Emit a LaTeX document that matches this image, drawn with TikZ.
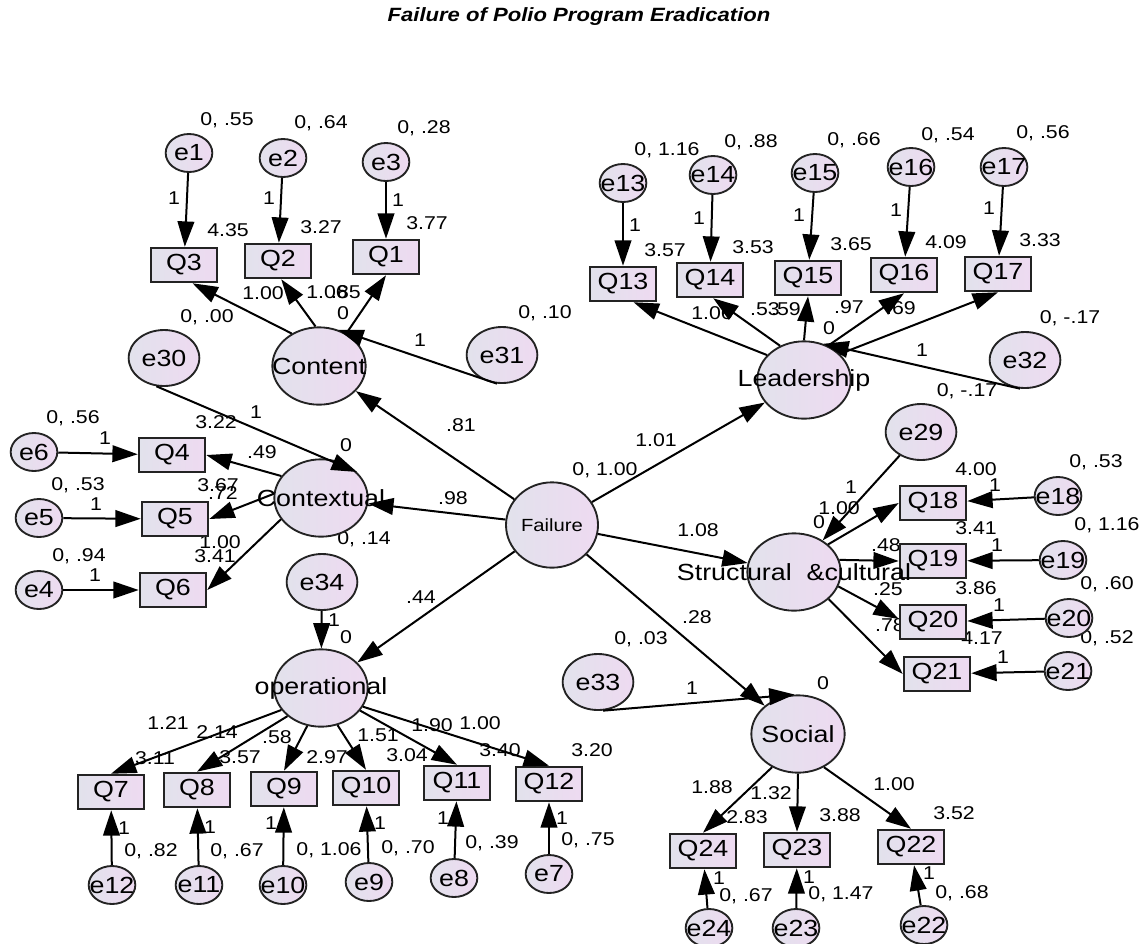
\documentclass[tikz,border=0pt]{standalone}
\usepackage{fontspec}
\setmainfont{Liberation Sans}[FakeStretch=1.15]
\usetikzlibrary{arrows.meta,shapes.geometric}
\definecolor{lavL}{RGB}{226,226,236}
\definecolor{lavR}{RGB}{238,218,241}
\definecolor{rim}{RGB}{35,35,35}
\newcommand{\cz}[1]{\makebox[0pt]{#1}}
\tikzset{
  latent/.style={ellipse,draw=rim,line width=1.4pt,left color=lavL,right color=lavR,
    minimum width=70pt,minimum height=58pt,inner sep=0pt,font=\fontsize{17.5}{20}\selectfont},
  failure/.style={latent,minimum width=69pt,minimum height=64pt,font=\fontsize{13.2}{15}\selectfont},
  obs/.style={rectangle,draw=rim,line width=1.4pt,left color=lavL,right color=lavR,
    minimum width=50pt,minimum height=26pt,inner sep=0pt,font=\fontsize{17.5}{20}\selectfont},
  err/.style={latent,minimum width=35pt,minimum height=28.5pt},
  bigerr/.style={latent,minimum width=53pt,minimum height=42pt},
  num/.style={inner sep=0pt,font=\fontsize{13.9}{16}\selectfont},
  arrow/.style={-{Triangle[length=19pt,width=12.5pt]},line width=1.5pt}}
\begin{document}
\begin{tikzpicture}[x=0.75pt,y=-0.75pt]
    \useasboundingbox[fill=white] (0,0) rectangle (1148,943);
    \node[font=\fontsize{14.4}{17}\selectfont\bfseries\itshape] (title) at (579,17) {Failure of Polio Program Eradication};
    % estimates
    \node[num] (n1) at (227,120) {0, .55};
    \node[num] (n2) at (321,123) {0, .64};
    \node[num] (n3) at (424,128) {0, .28};
    \node[num] (n4) at (174,198) {1};
    \node[num] (n5) at (269,198) {1};
    \node[num] (n6) at (398,200) {1};
    \node[num] (n7) at (228,230) {4.35};
    \node[num] (n8) at (321,227) {3.27};
    \node[num] (n9) at (427,223) {3.77};
    \node[num] (n10) at (263,293) {1.00};
    \node[num] (n11) at (327,292) {1.06};
    \node[num] (n12) at (346,292) {.85};
    \node[num] (n13) at (343,313) {0};
    \node[num] (n14) at (207,317) {0, .00};
    \node[num] (n15) at (545,313) {0, .10};
    \node[num] (n16) at (420,340) {1};
    \node[num] (n17) at (256,412) {1};
    \node[num] (n18) at (216,422) {3.22};
    \node[num] (n19) at (73,418) {0, .56};
    \node[num] (n20) at (105,438) {1};
    \node[num] (n21) at (262,452) {.49};
    \node[num] (n22) at (346,445) {0};
    \node[num] (n23) at (78,485) {0, .53};
    \node[num] (n24) at (218,485) {3.67};
    \node[num] (n25) at (223,493) {.72};
    \node[num] (n26) at (96,504) {1};
    \node[num] (n27) at (453,498) {.98};
    \node[num] (n28) at (220,542) {1.00};
    \node[num] (n29) at (215,556) {3.41};
    \node[num] (n30) at (364,539) {0, .14};
    \node[num] (n31) at (79,556) {0, .94};
    \node[num] (n32) at (95,575) {1};
    \node[num] (n33) at (461,425) {.81};
    \node[num] (n34) at (334,620) {1};
    \node[num] (n35) at (346,637) {0};
    \node[num] (n36) at (421,597) {.44};
    \node[num] (n37) at (168,723) {1.21};
    \node[num] (n38) at (217,732) {2.14};
    \node[num] (n39) at (277,737) {.58};
    \node[num] (n40) at (378,735) {1.51};
    \node[num] (n41) at (432,725) {1.90};
    \node[num] (n42) at (480,723) {1.00};
    \node[num] (n43) at (155,758) {3.11};
    \node[num] (n44) at (240,757) {3.57};
    \node[num] (n45) at (327,757) {2.97};
    \node[num] (n46) at (407,755) {3.04};
    \node[num] (n47) at (500,750) {3.40};
    \node[num] (n48) at (592,750) {3.20};
    \node[num] (n49) at (124,828) {1};
    \node[num] (n50) at (210,827) {1};
    \node[num] (n51) at (271,823) {1};
    \node[num] (n52) at (380,823) {1};
    \node[num] (n53) at (443,818) {1};
    \node[num] (n54) at (562,818) {1};
    \node[num] (n55) at (151,851) {0, .82};
    \node[num] (n56) at (237,851) {0, .67};
    \node[num] (n57) at (329,850) {0, 1.06};
    \node[num] (n58) at (408,848) {0, .70};
    \node[num] (n59) at (492,843) {0, .39};
    \node[num] (n60) at (588,840) {0, .75};
    \node[num] (n61) at (667,150) {0, 1.16};
    \node[num] (n62) at (751,142) {0, .88};
    \node[num] (n63) at (854,140) {0, .66};
    \node[num] (n64) at (948,135) {0, .54};
    \node[num] (n65) at (1043,133) {0, .56};
    \node[num] (n66) at (635,225) {1};
    \node[num] (n67) at (699,218) {1};
    \node[num] (n68) at (799,215) {1};
    \node[num] (n69) at (896,210) {1};
    \node[num] (n70) at (989,208) {1};
    \node[num] (n71) at (665,250) {3.57};
    \node[num] (n72) at (753,247) {3.53};
    \node[num] (n73) at (851,244) {3.65};
    \node[num] (n74) at (946,242) {4.09};
    \node[num] (n75) at (1040,240) {3.33};
    \node[num] (n76) at (712,313) {1.06};
    \node[num] (n77) at (765,309) {.53};
    \node[num] (n78) at (786,309) {.59};
    \node[num] (n79) at (849,307) {.97};
    \node[num] (n80) at (901,308) {.69};
    \node[num] (n81) at (829,328) {0};
    \node[num] (n82) at (1070,318) {0, -.17};
    \node[num] (n83) at (922,350) {1};
    \node[num] (n84) at (967,391) {0, -.17};
    \node[num] (n85) at (605,470) {0, 1.00};
    \node[num] (n86) at (656,440) {1.01};
    \node[num] (n87) at (698,530) {1.08};
    \node[num] (n88) at (697,617) {.28};
    \node[num] (n89) at (851,487) {1};
    \node[num] (n90) at (839,508) {1.00};
    \node[num] (n91) at (819,522) {0};
    \node[num] (n92) at (976,469) {4.00};
    \node[num] (n93) at (995,485) {1};
    \node[num] (n94) at (1096,462) {0, .53};
    \node[num] (n95) at (976,528) {3.41};
    \node[num] (n96) at (997,545) {1};
    \node[num] (n97) at (1107,525) {0, 1.16};
    \node[num] (n98) at (886,545) {.48};
    \node[num] (n99) at (888,589) {.25};
    \node[num] (n100) at (976,588) {3.86};
    \node[num] (n101) at (999,605) {1};
    \node[num] (n102) at (1107,584) {0, .60};
    \node[num] (n103) at (890,625) {.78};
    \node[num] (n104) at (982,638) {4.17};
    \node[num] (n105) at (1107,638) {0, .52};
    \node[num] (n106) at (1003,657) {1};
    \node[num] (n107) at (641,639) {0, .03};
    \node[num] (n108) at (692,688) {1};
    \node[num] (n109) at (823,683) {0};
    \node[num] (n110) at (712,787) {1.88};
    \node[num] (n111) at (771,793) {1.32};
    \node[num] (n112) at (894,784) {1.00};
    \node[num] (n113) at (747,817) {2.83};
    \node[num] (n114) at (840,815) {3.88};
    \node[num] (n115) at (954,813) {3.52};
    \node[num] (n116) at (719,878) {1};
    \node[num] (n117) at (809,877) {1};
    \node[num] (n118) at (929,873) {1};
    \node[num] (n119) at (746,896) {0, .67};
    \node[num] (n120) at (841,894) {0, 1.47};
    \node[num] (n121) at (962,893) {0, .68};
    % observed
    \node[obs] (Q3) at (184,265) {Q3};
    \node[obs] (Q2) at (278,261) {Q2};
    \node[obs] (Q1) at (386,257) {Q1};
    \node[obs] (Q4) at (172,455) {Q4};
    \node[obs] (Q5) at (175,519) {Q5};
    \node[obs] (Q6) at (173,590) {Q6};
    \node[obs] (Q7) at (111,792) {Q7};
    \node[obs] (Q8) at (197,790) {Q8};
    \node[obs] (Q9) at (284,789) {Q9};
    \node[obs] (Q10) at (366,788) {Q10};
    \node[obs] (Q11) at (457,783) {Q11};
    \node[obs] (Q12) at (549,784) {Q12};
    \node[obs] (Q13) at (623,284) {Q13};
    \node[obs] (Q14) at (710,280) {Q14};
    \node[obs] (Q15) at (808,278) {Q15};
    \node[obs] (Q16) at (904,275) {Q16};
    \node[obs] (Q17) at (998,274) {Q17};
    \node[obs] (Q18) at (933,503) {Q18};
    \node[obs] (Q19) at (933,561) {Q19};
    \node[obs] (Q20) at (933,622) {Q20};
    \node[obs] (Q21) at (937,674) {Q21};
    \node[obs] (Q22) at (911,847) {Q22};
    \node[obs] (Q23) at (797,850) {Q23};
    \node[obs] (Q24) at (703,851) {Q24};
    % errors
    \node[err] (e1) at (189,153) {\cz{e1}};
    \node[err] (e2) at (283,158) {\cz{e2}};
    \node[err] (e3) at (386,162) {\cz{e3}};
    \node[err] (e4) at (39,590) {\cz{e4}};
    \node[err] (e5) at (39,518) {\cz{e5}};
    \node[err] (e6) at (34,452) {\cz{e6}};
    \node[err] (e7) at (549,874) {\cz{e7}};
    \node[err] (e8) at (454,878) {\cz{e8}};
    \node[err] (e9) at (369,882) {\cz{e9}};
    \node[err] (e10) at (283,885) {\cz{e10}};
    \node[err] (e11) at (199,885) {\cz{e11}};
    \node[err] (e12) at (112,885) {\cz{e12}};
    \node[err] (e13) at (623,183) {\cz{e13}};
    \node[err] (e14) at (713,175) {\cz{e14}};
    \node[err] (e15) at (815,173) {\cz{e15}};
    \node[err] (e16) at (911,167) {\cz{e16}};
    \node[err] (e17) at (1004,167) {\cz{e17}};
    \node[err] (e18) at (1058,496) {\cz{e18}};
    \node[err] (e19) at (1063,560) {\cz{e19}};
    \node[err] (e20) at (1069,618) {\cz{e20}};
    \node[err] (e21) at (1068,671) {\cz{e21}};
    \node[err] (e22) at (924,925) {\cz{e22}};
    \node[err] (e23) at (796,928) {\cz{e23}};
    \node[err] (e24) at (709,928) {\cz{e24}};
    \node[bigerr] (e29) at (921,432) {\cz{e29}};
    \node[bigerr] (e30) at (164,358) {\cz{e30}};
    \node[bigerr] (e31) at (502,355) {\cz{e31}};
    \node[bigerr] (e32) at (1025,360) {\cz{e32}};
    \node[bigerr] (e33) at (598,682) {\cz{e33}};
    \node[bigerr] (e34) at (322,582) {\cz{e34}};
    % factors
    \node[latent] (Content) at (319,366) {\cz{Content}};
    \node[latent] (Contextual) at (321,498) {\cz{Contextual}};
    \node[latent] (oper) at (321,688) {\cz{operational}};
    \node[latent] (Lead) at (804,380) {\cz{Leadership}};
    \node[latent] (Struct) at (794,572) {\cz{Structural\ \ \&cultural}};
    \node[latent] (Social) at (798,734) {\cz{Social}};
    \node[failure] (Failure) at (552,525) {\cz{Failure}};
    \draw[arrow] (Failure) -- (Content);
    \draw[arrow] (Failure) -- (Contextual);
    \draw[arrow] (Failure) -- (oper);
    \draw[arrow] (Failure) -- (Lead);
    \draw[arrow] (Failure) -- (Struct);
    \draw[arrow] (Failure) -- (Social);
    \draw[arrow] (e1) -- (Q3);
    \draw[arrow] (e2) -- (Q2);
    \draw[arrow] (e3) -- (Q1);
    \draw[arrow] (Content.130) -- (Q3.-65);
    \draw[arrow] (Content.95) -- (Q2.-80);
    \draw[arrow] (Content.50) -- (Q1.south);
    \draw[arrow] (e31.-100) -- (Content.62);
    \draw[arrow] (e30.-105) -- (Contextual.36);
    \draw[arrow] (e6) -- (Q4);
    \draw[arrow] (e5) -- (Q5);
    \draw[arrow] (e4) -- (Q6);
    \draw[arrow] (Contextual.151) -- (Q4.east);
    \draw[arrow] (Contextual.175) -- (Q5.east);
    \draw[arrow] (Contextual.208) -- (Q6.east);
    \draw[arrow] (e34) -- (oper);
    \draw[arrow] (oper.209) -- (Q7.north);
    \draw[arrow] (oper.220) -- (Q8.north);
    \draw[arrow] (oper.250) -- (Q9.north);
    \draw[arrow] (oper.294) -- (Q10.north);
    \draw[arrow] (oper.330) -- (Q11.north);
    \draw[arrow] (oper.336) -- (Q12.north);
    \draw[arrow] (e12) -- (Q7);
    \draw[arrow] (e11) -- (Q8);
    \draw[arrow] (e10) -- (Q9);
    \draw[arrow] (e9) -- (Q10);
    \draw[arrow] (e8) -- (Q11);
    \draw[arrow] (e7) -- (Q12);
    \draw[arrow] (e13) -- (Q13);
    \draw[arrow] (e14) -- (Q14);
    \draw[arrow] (e15) -- (Q15);
    \draw[arrow] (e16) -- (Q16);
    \draw[arrow] (e17) -- (Q17);
    \draw[arrow] (Lead.146) -- (Q13.-60);
    \draw[arrow] (Lead.125) -- (Q14.-80);
    \draw[arrow] (Lead.north) -- (Q15.south);
    \draw[arrow] (Lead.55) -- (Q16.south);
    \draw[arrow] (Lead.36) -- (Q17.south);
    \draw[arrow] (e32.-100) -- (Lead.62);
    \draw[arrow] (e29) -- (Struct);
    \draw[arrow] (Struct.39) -- (Q18.west);
    \draw[arrow] (Struct.15) -- (Q19.west);
    \draw[arrow] (Struct.-18) -- (Q20.175);
    \draw[arrow] (Struct.-38) -- (Q21.west);
    \draw[arrow] (e18) -- (Q18);
    \draw[arrow] (e19) -- (Q19);
    \draw[arrow] (e20) -- (Q20);
    \draw[arrow] (e21) -- (Q21);
    \draw[arrow] (e33.-80) -- (Social.95);
    \draw[arrow] (Social.232) -- (Q24.north);
    \draw[arrow] (Social.south) -- (Q23.north);
    \draw[arrow] (Social.308) -- (Q22.north);
    \draw[arrow] (e24) -- (Q24);
    \draw[arrow] (e23) -- (Q23);
    \draw[arrow] (e22) -- (Q22);
\end{tikzpicture}
\end{document}
